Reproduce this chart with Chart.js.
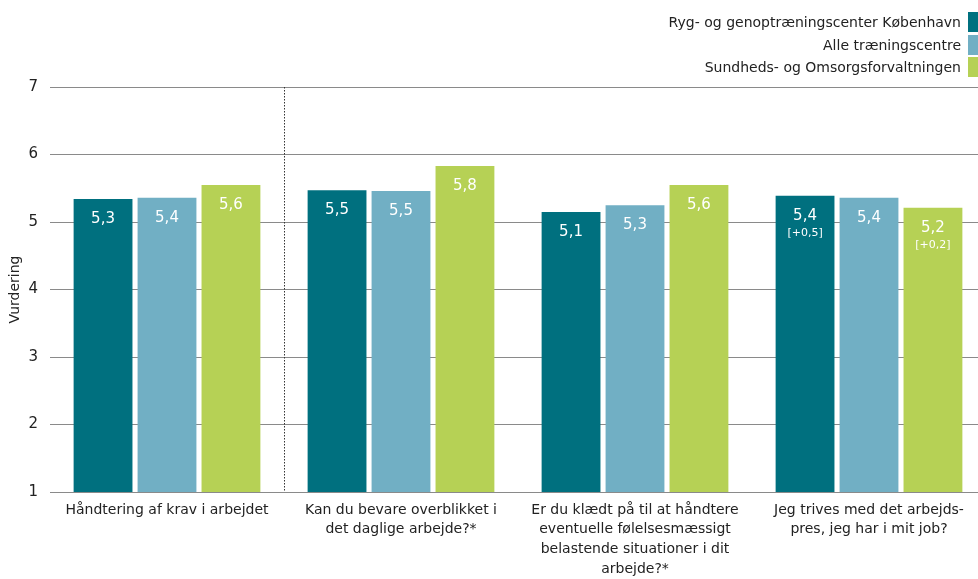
<!DOCTYPE html>
<html>
<head>
<meta charset="utf-8">
<script src="https://cdn.jsdelivr.net/npm/chart.js@4"></script>
<style>
    html, body { margin: 0; padding: 0; background: #fff; overflow: hidden; }
    #wrap { position: relative; width: 978px; height: 579px; overflow: hidden; }
    #box { position: absolute; left: 0; top: 0; width: 986px; height: 579px; }
    #legend { position: absolute; right: 0; top: 11px; font-family: "DejaVu Sans", sans-serif; font-size: 14px; color: #222; }
    .leg-row { display: flex; justify-content: flex-end; align-items: center; height: 22.5px; }
    .leg-box { width: 10px; height: 20px; margin-left: 7px; }
</style>
</head>
<body>
<div id="wrap">
    <div id="box"><canvas id="chart"></canvas></div>
    <div id="legend"></div>
</div>
<script>
// Categories (x-axis labels, split in lines)
const categories = [
    ['Håndtering af krav i arbejdet'],
    ['Kan du bevare overblikket i', 'det daglige arbejde?*'],
    ['Er du klædt på til at håndtere', 'eventuelle følelsesmæssigt', 'belastende situationer i dit', 'arbejde?*'],
    ['Jeg trives med det arbejds-', 'pres, jeg har i mit job?']
];

// Series
const seriesNames = ['Ryg- og genoptræningscenter København', 'Alle træningscentre', 'Sundheds- og Omsorgsforvaltningen'];
const seriesColors = ['#00707f', '#71afc4', '#b6d155'];

const rygValues = [5.34, 5.47, 5.15, 5.39];
const alleValues = [5.36, 5.46, 5.25, 5.36];
const sofValues = [5.55, 5.83, 5.55, 5.21];

const rygLabels = ['5,3', '5,5', '5,1', '5,4'];
const alleLabels = ['5,4', '5,5', '5,3', '5,4'];
const sofLabels = ['5,6', '5,8', '5,6', '5,2'];

// Change since last time (shown under the value)
const rygChange = ['', '', '', '[+0,5]'];
const alleChange = ['', '', '', ''];
const sofChange = ['', '', '', '[+0,2]'];

const yTicks = [1, 2, 3, 4, 5, 6, 7];

const FONT = '"DejaVu Sans", sans-serif';

// HTML legend
const legendEl = document.getElementById('legend');
legendEl.innerHTML = seriesNames.map((name, i) =>
    '<div class="leg-row"><span>' + name + '</span><span class="leg-box" style="background:' + seriesColors[i] + '"></span></div>'
).join('');

// Dotted separator after the first category
const separatorPlugin = {
    id: 'separator',
    beforeDatasetsDraw(chart) {
        const x = chart.scales.x;
        const area = chart.chartArea;
        const px = (x.getPixelForValue(0) + x.getPixelForValue(1)) / 2;
        const ctx = chart.ctx;
        ctx.save();
        ctx.strokeStyle = '#333';
        ctx.lineWidth = 1;
        ctx.setLineDash([1.5, 1.5]);
        ctx.beginPath();
        ctx.moveTo(Math.round(px) + 0.5, area.top);
        ctx.lineTo(Math.round(px) + 0.5, area.bottom);
        ctx.stroke();
        ctx.restore();
    }
};

// Value labels inside the bars
const valueLabelPlugin = {
    id: 'valueLabels',
    afterDatasetsDraw(chart) {
        const ctx = chart.ctx;
        ctx.save();
        ctx.fillStyle = '#fff';
        ctx.textAlign = 'center';
        ctx.textBaseline = 'middle';
        chart.data.datasets.forEach((ds, di) => {
            chart.getDatasetMeta(di).data.forEach((bar, i) => {
                ctx.font = '15px ' + FONT;
                ctx.fillText(ds.valueLabels[i], bar.x, bar.y + 20);
                if (ds.changeLabels[i]) {
                    ctx.font = '11px ' + FONT;
                    ctx.fillText(ds.changeLabels[i], bar.x, bar.y + 37);
                }
            });
        });
        ctx.restore();
    }
};

const ctx = document.getElementById('chart').getContext('2d');
new Chart(ctx, {
    type: 'bar',
    data: {
        labels: categories,
        datasets: [
            { label: seriesNames[0], data: rygValues, backgroundColor: seriesColors[0], valueLabels: rygLabels, changeLabels: rygChange },
            { label: seriesNames[1], data: alleValues, backgroundColor: seriesColors[1], valueLabels: alleLabels, changeLabels: alleChange },
            { label: seriesNames[2], data: sofValues, backgroundColor: seriesColors[2], valueLabels: sofLabels, changeLabels: sofChange }
        ]
    },
    options: {
        responsive: true,
        maintainAspectRatio: false,
        animation: false,
        categoryPercentage: 0.82,
        barPercentage: 0.92,
        layout: { padding: { top: 87, right: 0, left: 0, bottom: 0 } },
        plugins: {
            legend: { display: false },
            tooltip: { enabled: false }
        },
        scales: {
            x: {
                grid: { display: false },
                border: { display: true, color: '#8a8a8a' },
                ticks: {
                    color: '#222',
                    font: { family: FONT, size: 14, lineHeight: 1.41 },
                    maxRotation: 0,
                    autoSkip: false,
                    padding: 0
                },
                afterFit(scale) { scale.height = 87; }
            },
            y: {
                min: 1,
                max: 7,
                afterBuildTicks(scale) { scale.ticks = yTicks.map(v => ({ value: v })); },
                grid: { color: '#8a8a8a', drawTicks: false },
                border: { display: false },
                ticks: {
                    color: '#222',
                    font: { family: FONT, size: 15 },
                    padding: 12
                },
                title: {
                    display: true,
                    text: 'Vurdering',
                    color: '#222',
                    font: { family: FONT, size: 14 },
                    padding: { top: 7, bottom: 0 }
                },
                afterFit(scale) { scale.width = 50; }
            }
        }
    },
    plugins: [separatorPlugin, valueLabelPlugin]
});
</script>
</body>
</html>
